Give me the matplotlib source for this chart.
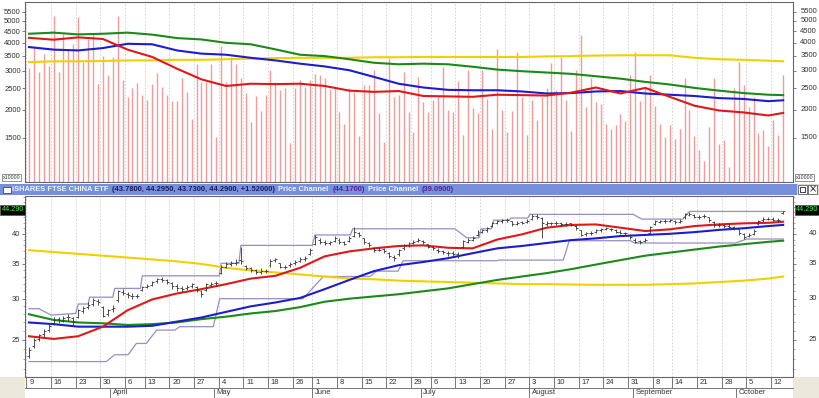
import matplotlib
matplotlib.use("Agg")
import matplotlib.pyplot as plt
import matplotlib.transforms as mtrans
from matplotlib.patches import Rectangle
from matplotlib.ticker import FixedLocator, NullLocator, NullFormatter, FuncFormatter
import numpy as np

plt.rcParams['font.family'] = ['Liberation Sans', 'DejaVu Sans']

# ---------------- data ----------------
# daily volume (x10000)
volume = [3090,3820,2950,3570,3130,5240,2950,4380,3690,3950,
          5200,3270,4160,4380,2620,3470,2880,3450,5240,2710,
          2290,2510,2640,2340,2220,2620,2920,2530,2330,2190,
          2190,2790,2410,1830,3200,2670,2670,3200,1520,3860,
          2670,3450,3220,2780,2370,1770,2300,1970,2340,3030,
          2670,2450,2520,1420,2510,2710,2530,2730,2900,2880,
          2780,2490,2530,1960,1730,2520,2410,1530,2580,2580,
          3030,1930,1440,3420,2290,2330,2950,1960,1600,2810,
          2170,1960,2220,2290,3110,1990,1960,2690,1540,3030,
          2050,1930,3030,2250,1640,3760,2010,1590,1980,3630,
          2290,1550,2210,1800,2290,2520,3240,2450,3450,2210,
          1610,3010,4310,2060,2780,2170,2130,1730,1640,1710,
          1910,1790,2860,3630,2190,2490,2880,2080,1740,1520,
          1710,1480,1650,2780,1990,1530,1320,1180,1680,2790,
          1410,1470,1110,2510,3270,2580,2060,2290,1580,1620,
          1380,1800,1550,2880]

open_ = [23.3,24.3,25.1,25.6,26.1,26.9,27.4,27.2,27.6,27.5,
         27.6,28.4,28.9,29.3,29.7,28.9,28.0,28.6,29.8,30.9,
         30.6,30.4,30.3,31.2,31.6,31.9,32.4,32.7,32.6,32.1,
         31.7,31.4,31.4,31.7,31.6,31.0,31.2,31.9,32.2,33.6,
         34.6,35.0,35.2,35.6,34.7,34.3,34.0,33.8,33.9,34.8,
         35.6,35.1,34.5,34.8,35.1,35.5,35.8,36.6,38.2,39.0,
         38.6,38.4,38.8,39.0,38.5,38.7,39.6,40.1,39.2,38.4,
         37.6,37.2,37.4,36.8,36.1,36.5,37.5,38.0,38.4,38.7,
         38.8,38.2,37.7,37.3,37.0,36.8,36.7,36.6,37.8,38.6,
         39.0,39.8,40.4,40.7,41.4,42.0,42.3,42.5,42.3,41.8,
         42.1,42.2,42.8,43.2,42.9,41.8,42.0,41.9,41.9,41.8,
         41.9,41.5,40.6,39.9,40.1,40.4,40.6,40.9,40.9,40.7,
         40.4,40.1,39.8,39.0,38.7,38.7,40.2,41.8,42.2,42.3,
         42.4,42.3,42.2,43.0,43.5,43.5,43.1,43.2,43.0,42.2,
         41.6,41.6,41.4,41.2,40.8,39.9,39.6,40.0,41.8,42.5,
         42.8,42.7,42.5,43.78]

high = [24.2,25.2,25.7,26.2,26.8,27.6,27.7,27.8,28.0,27.7,
        28.7,29.1,29.5,30.1,30.0,29.1,28.7,29.2,31.2,31.3,
        30.9,30.7,30.6,31.8,32.0,32.5,32.9,33.0,32.7,32.3,
        32.0,31.8,31.9,32.2,31.7,31.2,32.2,32.3,32.5,34.9,
        35.3,35.5,35.7,37.8,34.9,34.6,34.2,34.3,34.2,35.8,
        36.0,35.2,34.9,35.3,35.6,36.1,36.2,37.6,39.8,39.2,
        38.9,38.8,39.6,39.2,38.8,39.6,41.2,40.4,39.3,38.6,
        37.8,37.7,37.6,36.9,36.4,37.4,38.3,38.6,38.9,39.2,
        39.0,38.3,37.9,37.5,37.3,37.0,37.0,36.9,38.9,39.2,
        39.6,40.7,40.9,41.3,42.2,42.5,42.8,42.9,42.4,42.3,
        42.4,42.7,43.6,43.7,43.1,42.3,42.2,42.3,42.1,42.1,
        42.0,41.6,40.7,40.4,40.5,40.9,41.1,41.3,41.1,40.8,
        40.6,40.4,39.9,39.2,39.0,39.2,41.4,42.5,42.6,42.7,
        42.8,42.5,42.7,43.9,44.0,43.6,43.5,43.6,43.1,42.3,
        42.0,41.8,41.7,41.4,40.9,40.1,40.1,40.8,42.6,43.0,
        43.1,43.0,42.9,44.295]

low = [23.1,24.1,24.9,25.3,25.9,26.7,26.9,27.0,27.2,26.6,
       27.5,28.2,28.6,29.1,29.2,27.6,27.8,28.3,29.6,30.5,
       30.1,30.0,30.1,31.0,31.4,31.7,32.2,32.3,32.0,31.3,
       31.1,30.9,31.2,31.5,30.9,30.2,31.0,31.7,31.8,33.5,
       34.4,34.7,34.8,35.0,34.0,33.8,33.4,33.5,33.6,34.6,
       35.3,34.3,34.2,34.5,34.9,35.3,35.5,36.4,38.0,38.2,
       38.1,38.1,38.6,38.3,38.0,38.5,39.4,39.5,38.2,37.7,
       36.9,37.0,36.8,35.9,35.5,36.3,37.3,37.8,38.2,38.5,
       38.3,37.5,37.2,36.7,36.6,36.3,36.2,36.0,37.6,38.4,
       38.8,39.6,40.1,40.4,41.2,41.7,42.0,42.1,41.4,41.6,
       41.7,41.9,42.6,42.8,39.2,41.5,41.6,41.6,41.5,41.4,
       41.4,40.7,39.6,39.6,39.8,40.2,40.4,40.6,40.5,40.1,
       39.9,39.8,39.1,38.4,38.3,38.5,40.0,41.6,41.9,42.0,
       42.1,41.8,42.0,42.8,43.3,42.9,42.8,42.9,42.2,41.3,
       41.3,41.1,41.0,40.6,39.8,39.1,39.4,39.8,41.6,42.2,
       42.5,42.3,42.2,43.73]

close = [23.9,25.0,25.5,26.0,26.6,27.3,27.3,27.5,27.6,27.1,
         28.5,28.8,29.2,29.8,29.6,27.8,28.5,28.8,31.0,30.8,
         30.5,30.3,30.4,31.6,31.8,32.3,32.7,32.6,32.3,31.7,
         31.5,31.3,31.6,32.0,31.2,30.6,32.0,32.0,32.1,34.6,
         35.0,35.2,35.3,35.4,34.3,34.1,33.8,33.9,33.9,35.5,
         35.7,34.5,34.6,35.0,35.3,35.8,35.9,37.3,39.4,38.5,
         38.4,38.5,39.3,38.5,38.3,39.3,40.3,39.8,38.5,38.0,
         37.2,37.3,37.1,36.2,35.9,37.2,38.1,38.4,38.6,38.9,
         38.6,37.8,37.5,37.0,36.9,36.7,36.6,36.4,38.7,38.9,
         39.3,40.4,40.6,41.0,42.0,42.3,42.5,42.6,41.8,42.0,
         42.0,42.3,43.3,43.1,42.0,42.0,41.9,41.9,41.8,41.8,
         41.6,41.0,39.8,40.1,40.2,40.6,40.8,41.0,40.8,40.4,
         40.2,40.1,39.4,38.6,38.6,38.9,41.2,42.3,42.3,42.4,
         42.5,42.1,42.4,43.6,43.7,43.1,43.1,43.2,42.5,41.6,
         41.6,41.4,41.3,41.0,40.1,39.4,39.8,40.5,42.4,42.8,
         42.8,42.6,42.6,44.29]

# moving-average readings (trading-day index, value)
ma_idx = [0,5,10,15,20,25,30,35,40,45,50,55,60,65,70,75,80,85,90,95,
          100,105,110,115,120,125,130,135,140,145,150,153]
vol_green = [4380,4430,4350,4380,4430,4340,4190,4130,3990,3930,3730,3530,3480,3370,3250,3200,
             3220,3200,3120,3030,2980,2940,2900,2830,2760,2670,2600,2510,2440,2380,2340,2330]
vol_blue = [3820,3720,3690,3780,3950,3930,3690,3570,3530,3420,3330,3220,3130,3010,2810,2620,
            2520,2460,2450,2450,2420,2370,2380,2420,2430,2370,2340,2310,2260,2240,2190,2210]
vol_red = [4200,4120,4220,4150,3720,3450,3060,2740,2560,2620,2610,2620,2560,2440,2410,2430,
           2310,2300,2290,2340,2330,2320,2390,2520,2370,2510,2290,2090,1990,1950,1890,1940]
vol_yellow = [3270,3300,3300,3310,3330,3330,3350,3350,3370,3390,3410,3420,3420,3420,3440,3440,
              3450,3450,3450,3450,3450,3470,3480,3500,3510,3510,3510,3420,3370,3350,3320,3300]

price_red = [25.4,25.1,25.4,26.5,28.5,29.9,30.7,31.3,32.0,32.8,33.2,34.4,36.2,37.0,37.5,37.9,
             38.0,37.6,37.5,39.0,39.9,41.1,41.6,41.7,41.1,40.5,40.8,41.4,41.7,41.9,42.0,42.2]
price_blue = [27.0,26.8,26.5,26.5,26.5,26.6,27.1,27.6,28.3,29.0,29.5,30.1,31.3,32.6,33.9,34.8,
              35.3,35.9,36.7,37.5,37.9,38.4,38.9,39.2,39.6,39.8,40.0,40.3,40.7,41.0,41.4,41.6]
price_green = [28.0,27.3,27.0,26.9,26.7,26.8,27.0,27.4,27.7,28.1,28.4,28.9,29.6,30.0,30.3,30.6,
               31.0,31.4,32.0,32.6,33.1,33.6,34.2,34.9,35.6,36.3,36.8,37.3,37.8,38.2,38.6,38.8]
price_yellow = [37.2,36.9,36.6,36.3,36.0,35.7,35.4,35.0,34.4,34.0,33.7,33.4,33.1,32.8,32.7,32.5,
                32.4,32.3,32.2,32.1,32.0,32.0,31.95,31.9,31.9,31.9,32.0,32.1,32.3,32.5,32.8,33.1]

# price channel readings
upper_idx = [0,2,4.5,9.5,10,12,12.3,17,17.4,22.6,23,38.6,39,42.6,43,57.5,58,65.2,65.7,86.4,
             88.8,91.3,91.7,93.8,94.3,97.4,97.8,101.2,101.6,122.6,124.3,132.7,134.0,153]
upper_val = [28.7,28.7,27.9,28.1,29.3,29.3,30.2,30.2,31.4,31.4,33.2,33.2,35.1,35.1,38.0,38.0,
             39.8,39.8,40.9,40.9,39.3,39.3,40.9,40.9,42.5,42.5,42.9,42.9,43.6,43.6,42.7,42.7,
             44.17,44.17]
lower_idx = [0,15.7,17.4,20.1,21.8,23.8,25.9,29.6,30.6,37.4,38.7,55.6,59.7,69.2,70.5,74.9,75.9,
             94.9,95.3,108.4,109.6,122.0,122.9,143.3,145.6,153]
lower_val = [22.7,22.7,23.4,23.4,24.6,24.6,26.1,26.1,26.5,26.5,30.0,30.0,33.1,33.1,33.9,33.9,
             35.5,35.5,35.6,35.6,38.8,38.8,38.4,38.4,39.09,39.09]

# axis labels
week_start = [0,5,10,15,20,24,29,34,39,44,49,54,58,63,68,73,78,82,87,92,97,102,107,112,117,
              122,127,131,136,141,146,151]
week_labels = ['9','16','23','30','6','13','20','27','4','11','18','26','1','8','15','22','29',
               '6','13','20','27','3','10','17','24','31','8','14','21','28','5','12']
month_start = [17,38,58,80,102,123,144]
month_labels = ['April','May','June','July','August','September','October']
vol_ticks = [1500,2000,2500,3000,3500,4000,4500,5000,5500]
price_ticks = [25,30,35,40]
price_minor = [22,23,24,26,27,28,29,31,32,33,34,36,37,38,39,41,42,43,44,45,46,47]

title_parts = [("iSHARES FTSE CHINA ETF", '#eef2ff'),
               ("(43.7800, 44.2950, 43.7300, 44.2900, +1.52000)", '#1c1c5a'),
               ("Price Channel", '#eef2ff'),
               ("(44.1700)", '#5a1e9a'),
               ("Price Channel", '#eef2ff'),
               ("(39.0900)", '#5a1e9a')]
last_label = "44.290"

# ---------------- figure ----------------
W, H = 820, 398
fig = plt.figure(figsize=(W / 100, H / 100), dpi=100)
fig.patch.set_facecolor('white')

def fx(px):
    return px / W

def fy(py):
    return 1 - py / H

L, R = 25, 793
ax1 = fig.add_axes([fx(L), fy(182), (R - L) / W, (182 - 2) / H])
ax2 = fig.add_axes([fx(L), fy(377), (R - L) / W, (377 - 196) / H])

days = np.arange(len(close))
XLIM = (-0.8, 155.0)
VOL_LIM = (954, 6070)
PRICE_LIM = (21.2, 47.3)

LBL = dict(fontsize=5.5, color='#333333')

for ax in (ax1, ax2):
    ax.set_xlim(*XLIM)
    ax.set_yscale('log')
    ax.set_xticks([])
    ax.xaxis.set_minor_locator(NullLocator())
    for s in ax.spines.values():
        s.set_color('#666666')
        s.set_linewidth(0.8)
    for ws in week_start:
        ax.axvline(ws - 0.5, color='#cfcfcf', lw=0.6, ls=(0, (2, 2)), zorder=0)

# ---- volume panel ----
ax1.set_ylim(*VOL_LIM)
ax1.vlines(days, VOL_LIM[0], volume, colors='#ee9c9c', lw=1.0, zorder=1)
ax1.plot(ma_idx, vol_yellow, color='#f2d000', lw=1.5, zorder=3)
ax1.plot(ma_idx, vol_green, color='#1a8a1a', lw=1.5, zorder=3)
ax1.plot(ma_idx, vol_blue, color='#1c1cd0', lw=1.5, zorder=3)
ax1.plot(ma_idx, vol_red, color='#e01818', lw=1.5, zorder=3)
ax1.yaxis.set_major_locator(FixedLocator(vol_ticks))
ax1.yaxis.set_major_formatter(FuncFormatter(lambda v, p: f"{v:g}"))
ax1.yaxis.set_minor_locator(NullLocator())
ax1.yaxis.set_minor_formatter(NullFormatter())
ax1.tick_params(axis='y', which='major', direction='out', length=2, width=0.6,
                left=True, right=True, labelleft=True, labelright=False,
                labelsize=5.5, labelcolor='#333333', pad=1, color='#666666')
tr1 = mtrans.blended_transform_factory(ax1.transAxes, ax1.transData)
for v in vol_ticks:
    ax1.text((817 - L) / (R - L), v, f"{v:g}", transform=tr1, ha='right', va='center',
             clip_on=False, **LBL)

# ---- price panel ----
ax2.set_ylim(*PRICE_LIM)
ax2.plot(upper_idx, upper_val, color='#9a8cc4', lw=0.9, zorder=2)
ax2.plot(lower_idx, lower_val, color='#9a8cc4', lw=0.9, zorder=2)
ax2.plot(ma_idx, price_yellow, color='#f2d000', lw=1.5, zorder=3)
ax2.plot(ma_idx, price_green, color='#1a8a1a', lw=1.5, zorder=3)
ax2.plot(ma_idx, price_blue, color='#1c1cd0', lw=1.5, zorder=3)
ax2.plot(ma_idx, price_red, color='#e01818', lw=1.5, zorder=3)
bar_c = '#333333'
ax2.vlines(days, low, high, colors=bar_c, lw=0.6, zorder=4)
ax2.hlines(open_, days - 0.4, days, colors=bar_c, lw=0.6, zorder=4)
ax2.hlines(close, days, days + 0.4, colors=bar_c, lw=0.6, zorder=4)
ax2.yaxis.set_major_locator(FixedLocator(price_ticks))
ax2.yaxis.set_major_formatter(FuncFormatter(lambda v, p: f"{v:g}"))
ax2.yaxis.set_minor_locator(FixedLocator(price_minor))
ax2.yaxis.set_minor_formatter(NullFormatter())
ax2.tick_params(axis='y', which='major', direction='out', length=2.5, width=0.6,
                left=True, right=True, labelleft=True, labelright=False,
                labelsize=5.5, labelcolor='#333333', pad=1, color='#666666')
ax2.tick_params(axis='y', which='minor', direction='out', length=1.2, width=0.5,
                left=True, right=True, color='#888888')
tr2 = mtrans.blended_transform_factory(ax2.transAxes, ax2.transData)
for v in price_ticks:
    ax2.text((817 - L) / (R - L), v, f"{v:g}", transform=tr2, ha='right', va='center',
             clip_on=False, **LBL)

# ---- date axis rows ----
trd = mtrans.blended_transform_factory(ax2.transData, fig.transFigure)
line_kw = dict(color='#777777', lw=0.7, clip_on=False)
for yy in (387.5, 397.5):
    ax2.plot(XLIM, [fy(yy), fy(yy)], transform=trd, **line_kw)
for ws, lab in zip(week_start, week_labels):
    ax2.plot([ws - 0.5, ws - 0.5], [fy(377), fy(387.5)], transform=trd, **line_kw)
    ax2.text(ws - 0.5 + 0.55, fy(382.3), lab, transform=trd, ha='left', va='center',
             clip_on=False, **LBL)
for ms, lab in zip(month_start, month_labels):
    ax2.plot([ms - 0.5, ms - 0.5], [fy(387.5), fy(397.5)], transform=trd, **line_kw)
    ax2.text(ms - 0.5 + 0.5, fy(392.5), lab, transform=trd, ha='left', va='center',
             clip_on=False, **LBL)

# corner fills
fig.add_artist(Rectangle((0, 0), fx(L), 21 / H, transform=fig.transFigure,
                         facecolor='#ece9dc', edgecolor='none', zorder=0))
fig.add_artist(Rectangle((fx(R), 0), fx(W - R), 21 / H, transform=fig.transFigure,
                         facecolor='#ece9dc', edgecolor='none', zorder=0))

# ---- title bar ----
fig.add_artist(Rectangle((0, fy(195)), fx(797), 11 / H, transform=fig.transFigure,
                         facecolor='#7890dc', edgecolor='none'))
fig.add_artist(Rectangle((fx(797), fy(195)), fx(23), 11 / H, transform=fig.transFigure,
                         facecolor='#dcd9d0', edgecolor='none'))
fig.add_artist(Rectangle((fx(3), fy(193)), fx(8), 6 / H, transform=fig.transFigure,
                         facecolor='white', edgecolor='#333333', lw=0.5))
for bx in (798, 808):
    fig.add_artist(Rectangle((fx(bx), fy(194)), fx(9), 9 / H, transform=fig.transFigure,
                             facecolor='white', edgecolor='#444444', lw=0.5))
fig.add_artist(Rectangle((fx(800), fy(192)), fx(5), 5 / H, transform=fig.transFigure,
                         facecolor='none', edgecolor='#222222', lw=0.6))
fig.text(fx(812.5), fy(189.5), '×', fontsize=7, color='#222222', ha='center', va='center',
         family=['DejaVu Sans'])

# chain title pieces left to right
renderer = fig.canvas.get_renderer()
ty = fy(189.5)
xpos = 12.0
for txt, col in title_parts:
    t = fig.text(fx(xpos), ty, txt, color=col, fontsize=5.4, fontweight='bold', va='center')
    bb = t.get_window_extent(renderer=renderer)
    xpos += bb.width + 3.5

# last price boxes
box_kw = dict(fontsize=5.2, color='#40ff40', va='center', ha='left',
              bbox=dict(facecolor='black', edgecolor='#555555', pad=0.8, lw=0.5))
fig.text(fx(1.5), fy(210), last_label, **box_kw)
fig.text(fx(796), fy(210), last_label, **box_kw)

# x10000 boxes
xk = dict(fontsize=3.8, color='#333333', va='center', ha='left',
          bbox=dict(facecolor='white', edgecolor='#666666', pad=0.6, lw=0.5))
fig.text(fx(3), fy(177.5), 'x10000', **xk)
fig.text(fx(796), fy(177.5), 'x10000', **xk)

fig.savefig('out.png', dpi=100)
